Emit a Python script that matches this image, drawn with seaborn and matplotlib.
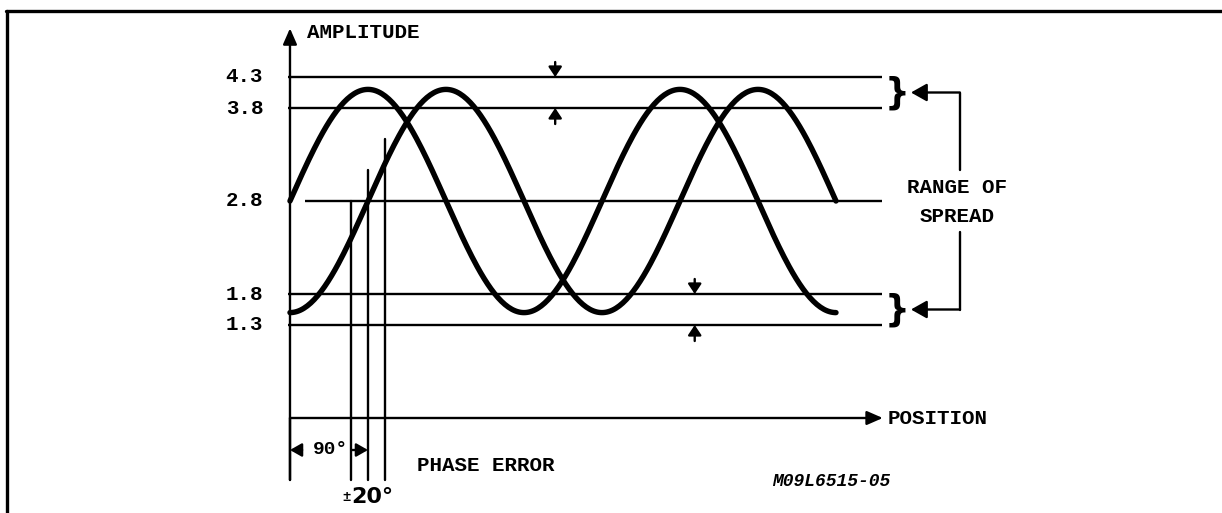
import numpy as np
import pandas as pd
import matplotlib
matplotlib.use("Agg")
import matplotlib.pyplot as plt
from matplotlib.lines import Line2D
import seaborn as sns

sns.set_theme(style="white")
plt.rcParams['font.family'] = ['Liberation Mono', 'DejaVu Sans Mono', 'DejaVu Sans']
plt.rcParams['font.weight'] = 'bold'
plt.rcParams['text.color'] = 'black'

# values
levels = [4.3, 3.8, 2.8, 1.8, 1.3]
level_labels = ["4.3", "3.8", "2.8", "1.8", "1.3"]
wave_mid = 2.8          # centre of both waves
wave_peak = 4.1         # crest between 3.8 and 4.3 (trough mirrors it)
wave_end = 630          # degrees of position drawn
phase_shift = 90        # second wave lags by 90 deg
phase_error = 20        # +/- 20 deg
code_label = "M09L6515-05"

# the drawing is not to scale in amplitude: uneven spacing of the levels
sched_vals = [-1.33, 0.0, 1.3, 1.8, 2.8, 3.8, 4.3, 5.55]
sched_pos = [0, 95, 188, 219, 312, 405, 436, 513]

def fwd(v):
    return np.interp(v, sched_vals, sched_pos)

def inv(h):
    return np.interp(h, sched_pos, sched_vals)

def wave(deg):
    # sine as drawn on the (uneven) amplitude scale
    swing = fwd(wave_peak) - fwd(wave_mid)
    return inv(fwd(wave_mid) + swing * np.sin(np.radians(deg)))

position = np.arange(0, wave_end + 1, 2)
df = pd.concat([
    pd.DataFrame({"position": position, "wave": "a", "amplitude": wave(position)}),
    pd.DataFrame({"position": position, "wave": "b", "amplitude": wave(position - phase_shift)}),
])

fig = plt.figure(figsize=(12.22, 5.13), dpi=100)
ax = fig.add_axes([0, 0, 1, 1])
ax.set_yscale("function", functions=(fwd, inv))
ax.set_xlim(-334.6, 1075.4)
ax.set_ylim(sched_vals[0], sched_vals[-1])
ax.axis("off")

thin = 1.7
k = "black"

# level lines + labels
for lv, lab in zip(levels, level_labels):
    x0 = 17 if lv == wave_mid else -2
    ax.plot([x0, 683], [lv, lv], color=k, lw=thin, solid_capstyle="butt")
    ax.text(-31, lv, lab, ha="right", va="center", fontsize=15)

# the two waves
sns.lineplot(data=df, x="position", y="amplitude", hue="wave", palette=[k, k],
             linewidth=3.9, legend=False, ax=ax, sort=False)

def arrow(x0, y0, x1, y1, ml=0.8, mw=0.35, ms=12, lw=thin):
    ax.annotate("", xy=(x1, y1), xytext=(x0, y0),
                arrowprops=dict(arrowstyle="-|>,head_length=%s,head_width=%s" % (ml, mw),
                                color=k, lw=lw, mutation_scale=ms,
                                shrinkA=0, shrinkB=0))

# axes
arrow(0, -0.867, 0, 5.09)
arrow(0, 0, 684, 0)
ax.text(19.6, 5.03, "AMPLITUDE", ha="left", va="center", fontsize=15)
ax.text(690, 0, "POSITION", ha="left", va="center", fontsize=15)

# phase markers
tops = [2.8, 3.133, 3.467]
for xp, top in zip([phase_shift - phase_error, phase_shift, phase_shift + phase_error], tops):
    ax.plot([xp, xp], [-0.867, top], color=k, lw=thin)
ax.plot([0, 0], [-0.867, 0], color=k, lw=thin)
arrow(14, -0.448, 0, -0.448, ml=0.7, mw=0.4, ms=10)
arrow(72, -0.448, phase_shift, -0.448, ml=0.7, mw=0.4, ms=10)
ax.text(46.7, -0.448, "90°", ha="center", va="center", fontsize=14)
ax.text(70, -1.105, "±", ha="right", va="center", fontsize=10)
ax.text(71, -1.105, "20°", ha="left", va="center", fontsize=16,
        family=["DejaVu Sans"])
ax.text(146.5, -0.671, "PHASE ERROR", ha="left", va="center", fontsize=15)
ax.text(556, -0.895, code_label, ha="left", va="center", fontsize=13,
        fontstyle="italic")

# spread arrows between level pairs
for xa, a, b in [(306, 4.3, 3.8), (467, 1.8, 1.3)]:
    arrow(xa, inv(fwd(a) + 15), xa, a, ml=0.6, mw=0.4, ms=10)
    arrow(xa, inv(fwd(b) - 16), xa, b, ml=0.6, mw=0.4, ms=10)

# braces and range of spread callout
for a, b in [(4.3, 3.8), (1.8, 1.3)]:
    mid = (a + b) / 2
    ax.text(700, mid, "}", ha="center", va="center", fontsize=25,
            family=["DejaVu Sans"], fontweight="bold")
    arrow(773, mid, 716.5, mid, ml=0.8, mw=0.45, ms=12)
ax.plot([773, 773], [(levels[0] + levels[1]) / 2, 3.133], color=k, lw=thin)
ax.plot([773, 773], [2.467, (levels[3] + levels[4]) / 2], color=k, lw=thin)
ax.text(770, 2.95, "RANGE OF", ha="center", va="center", fontsize=15)
ax.text(770, 2.628, "SPREAD", ha="center", va="center", fontsize=15)

# frame (top and left only visible)
fig.add_artist(Line2D([6 / 1222, 1], [1 - 11 / 513, 1 - 11 / 513], color=k, lw=2.4,
                      transform=fig.transFigure))
fig.add_artist(Line2D([6.5 / 1222, 6.5 / 1222], [0, 1 - 11 / 513], color=k, lw=2.4,
                      transform=fig.transFigure))

fig.savefig("out.png", dpi=100, facecolor="white")
